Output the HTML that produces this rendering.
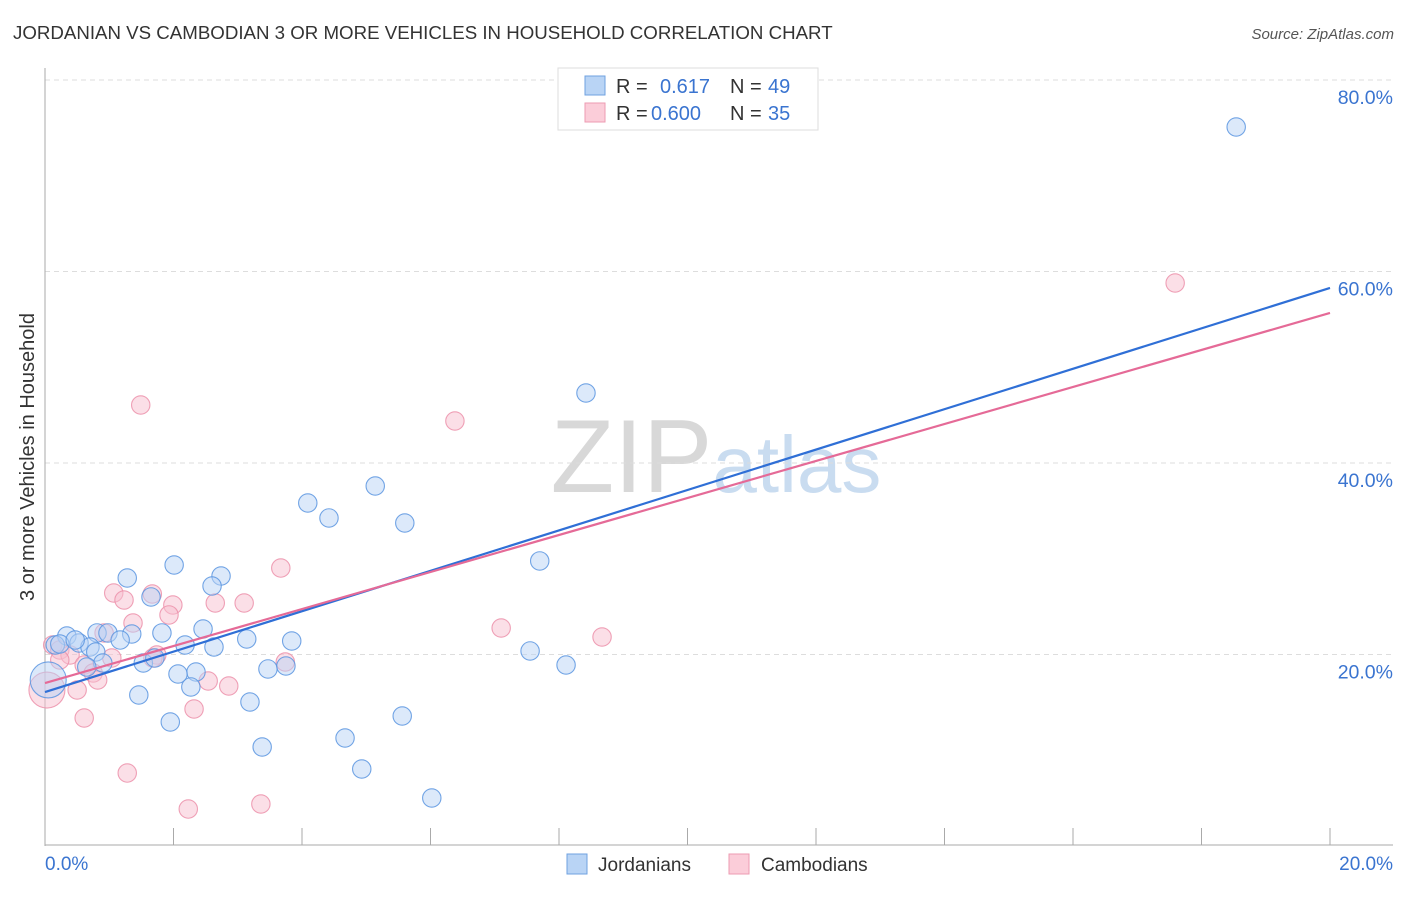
<!DOCTYPE html>
<html><head><meta charset="utf-8"><style>
body{margin:0;background:#fff;font-family:"Liberation Sans",sans-serif;}
svg text{font-family:"Liberation Sans",sans-serif;}
</style></head><body>
<svg id="chart" width="1406" height="892" viewBox="0 0 1406 892" xmlns="http://www.w3.org/2000/svg">
<text x="13" y="39" font-size="18.7" fill="#333">JORDANIAN VS CAMBODIAN 3 OR MORE VEHICLES IN HOUSEHOLD CORRELATION CHART</text>
<text x="1394" y="39" font-size="15" fill="#555" text-anchor="end" font-style="italic">Source: ZipAtlas.com</text>
<text x="716" y="492" font-size="104" fill="#ddd" text-anchor="middle" font-family="Liberation Serif"><tspan fill="#d8d8d8">ZIP</tspan><tspan fill="#c9dcf0" font-family="Liberation Sans" font-size="80">atlas</tspan></text>
<g id="grid"></g>
<g id="axes"></g>
<g id="marks"></g>
<text transform="translate(34,457) rotate(-90)" font-size="20" fill="#333" text-anchor="middle">3 or more Vehicles in Household</text>
<g>
<rect x="558" y="68" width="260" height="62" fill="#fff" stroke="#ddd"/>
<rect x="585" y="76" width="20" height="19" fill="#b9d4f5" stroke="#6fa2e0"/>
<rect x="585" y="103" width="20" height="19" fill="#fbcdd9" stroke="#ec9bb2"/>
<text x="616" y="93" font-size="20" fill="#333">R =</text><text x="660" y="93" font-size="20" fill="#3a74d0">0.617</text>
<text x="730" y="93" font-size="20" fill="#333">N =</text><text x="768" y="93" font-size="20" fill="#3a74d0">49</text>
<text x="616" y="120" font-size="20" fill="#333">R =</text><text x="651" y="120" font-size="20" fill="#3a74d0">0.600</text>
<text x="730" y="120" font-size="20" fill="#333">N =</text><text x="768" y="120" font-size="20" fill="#3a74d0">35</text>
</g>
<g>
<rect x="567" y="854" width="20" height="20" fill="#b9d4f5" stroke="#6fa2e0"/>
<text x="598" y="871" font-size="19" fill="#333">Jordanians</text>
<rect x="729" y="854" width="20" height="20" fill="#fbcdd9" stroke="#ec9bb2"/>
<text x="761" y="871" font-size="19" fill="#333">Cambodians</text>
</g>
</svg>
<script>
const yTicks=[20,40,60,80];
const yTickLabels=["20.0%","40.0%","60.0%","80.0%"];
const xTickVals=[0,2,4,6,8,10,12,14,16,18,20];
const xEndLabels=["0.0%","20.0%"];
const jorX=[18.54,8.42,5.14,4.09,4.42,5.60,7.70,2.01,2.74,2.60,1.28,1.65,0.34,0.81,1.35,0.98,1.17,1.82,2.46,0.53,0.16,0.70,2.18,2.63,3.14,3.84,0.79,0.90,1.53,1.71,0.65,3.47,2.35,2.07,3.75,7.55,8.11,2.27,1.46,3.19,1.95,5.56,3.38,4.67,4.93,6.02,0.05,0.23,0.47];
const jorY=[75.09,47.31,37.60,35.82,34.26,33.73,29.77,29.35,28.20,27.15,27.99,26.01,21.93,22.25,22.14,22.25,21.51,22.25,22.66,21.20,20.99,20.78,20.99,20.78,21.62,21.41,20.26,19.11,19.11,19.63,18.69,18.49,18.17,17.96,18.80,20.37,18.90,16.61,15.77,15.04,12.95,13.58,10.34,11.28,8.04,5.01,17.34,21.10,21.51];
const camX=[17.59,1.49,6.38,3.67,1.07,1.23,1.67,1.99,1.93,2.65,3.10,1.37,0.92,7.10,8.67,0.12,0.23,0.39,1.04,1.74,0.61,3.74,0.75,0.82,2.54,2.86,0.50,0.03,2.32,0.61,1.28,2.23,3.36,1.68,0.23];
const camY=[58.80,46.06,44.39,29.03,26.42,25.69,26.32,25.17,24.13,25.38,25.38,23.29,22.25,22.77,21.83,20.99,20.47,19.95,19.63,19.95,18.90,19.22,18.07,17.34,17.23,16.71,16.29,16.29,14.31,13.37,7.62,3.86,4.39,19.63,19.43];
const jorTrend=[16.08,58.28];
const camTrend=[17.02,55.67];
const NS="http://www.w3.org/2000/svg";
const X=v=>45+v/20*1285;
const Y=v=>846-v/20*191.5;
function mk(tag,attrs,parent){const e=document.createElementNS(NS,tag);for(const k in attrs)e.setAttribute(k,attrs[k]);document.getElementById(parent).appendChild(e);return e;}
yTicks.forEach((t,i)=>{
 const g=mk('line',{x1:45,x2:1393,y1:Y(t),y2:Y(t),stroke:'#ddd','stroke-dasharray':'5,4'},'grid');
 
 
 const tx=mk('text',{x:1393,y:Y(t)+24,'font-size':19.5,fill:'#3a74d0','text-anchor':'end'},'grid');
 tx.textContent=yTickLabels[i];
 
 
});
const la=mk('line',{x1:45,x2:45,y1:68,y2:846,stroke:'#aaa'},'axes');


const ba=mk('line',{x1:45,x2:1393,y1:845,y2:845,stroke:'#aaa'},'axes');


xTickVals.forEach(v=>{
 const t=mk('line',{x1:X(v),x2:X(v),y1:828,y2:845,stroke:'#aaa'},'axes');
 
 
});
const xl0=mk('text',{x:45,y:870,'font-size':19,fill:'#3a74d0'},'axes');xl0.textContent=xEndLabels[0];


const xl1=mk('text',{x:1393,y:870,'font-size':19,fill:'#3a74d0','text-anchor':'end'},'axes');xl1.textContent=xEndLabels[1];


function pts(xs,ys,fill,stroke,name,bigIdx){
 xs.forEach((x,i)=>{
  const c=mk('circle',{cx:X(x),cy:Y(ys[i]),r:i===bigIdx?18:9.2,fill:fill,'fill-opacity':0.5,stroke:stroke,'stroke-opacity':0.85,'stroke-width':1.1},'marks');
  
  
 });
}
pts(camX,camY,'#f8c0cf','#ec90aa','point-cambodian',27);
pts(jorX,jorY,'#b9d4f5','#5b95e0','point-jordanian',46);
const tb=mk('line',{x1:X(0),y1:Y(jorTrend[0]),x2:X(20),y2:Y(jorTrend[1]),stroke:'#2f6fd6','stroke-width':2.2},'marks');


const tp=mk('line',{x1:X(0),y1:Y(camTrend[0]),x2:X(20),y2:Y(camTrend[1]),stroke:'#e56a97','stroke-width':2.2},'marks');


</script>
</body></html>
